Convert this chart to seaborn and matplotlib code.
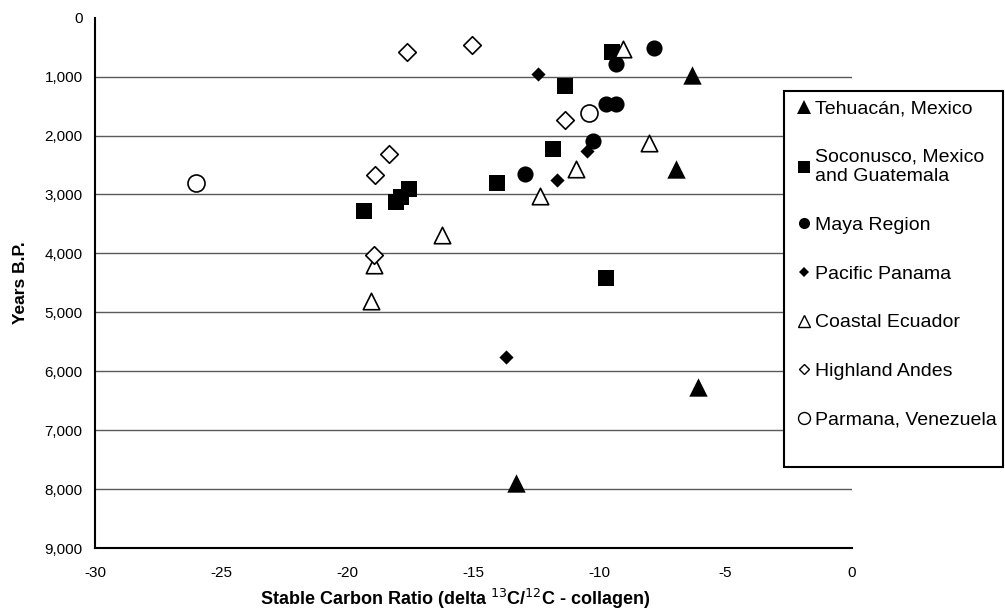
import matplotlib
matplotlib.use("Agg")
import matplotlib.pyplot as plt
import seaborn as sns
from matplotlib.lines import Line2D
from matplotlib.patches import Rectangle
from matplotlib.ticker import FuncFormatter

# delta 13C/12C (x) and years B.P. (y) per region
tehuacan_x = [-6.35, -6.95, -6.1, -13.3]
tehuacan_y = [970, 2570, 6260, 7900]

soconusco_x = [-19.35, -18.05, -17.85, -17.55, -14.05, -11.85, -11.35, -9.5, -9.75]
soconusco_y = [3280, 3120, 3040, 2900, 2810, 2225, 1160, 590, 4410]

maya_x = [-7.85, -9.35, -9.75, -9.35, -10.25, -12.95]
maya_y = [510, 790, 1460, 1460, 2100, 2650]

panama_x = [-12.45, -10.5, -11.7, -13.7]
panama_y = [955, 2255, 2760, 5755]

ecuador_x = [-9.05, -8.05, -10.95, -12.35, -16.25, -18.95, -19.05]
ecuador_y = [535, 2120, 2570, 3020, 3690, 4190, 4810]

andes_x = [-17.65, -15.05, -11.35, -18.35, -18.9, -18.95]
andes_y = [575, 465, 1735, 2315, 2665, 4020]

parmana_x = [-26.0, -10.4]
parmana_y = [2800, 1610]

labels = [
    "Tehuacán, Mexico",
    "Soconusco, Mexico\nand Guatemala",
    "Maya Region",
    "Pacific Panama",
    "Coastal Ecuador",
    "Highland Andes",
    "Parmana, Venezuela",
]

sns.set_style("white")
plt.rcParams["font.family"] = ["Liberation Sans", "DejaVu Sans"]
plt.rcParams["axes.unicode_minus"] = False
plt.rcParams["text.color"] = "black"
plt.rcParams["axes.labelcolor"] = "black"
plt.rcParams["xtick.color"] = "black"
plt.rcParams["ytick.color"] = "black"

W, H = 1005, 615
fig = plt.figure(figsize=(W / 100, H / 100), dpi=100)
ax = fig.add_axes([95 / W, 1 - 548 / H, (851.7 - 95) / W, (548 - 17.7) / H])

# (x, y, marker, size, filled)
series = [
    (tehuacan_x, tehuacan_y, "^", 175, True),
    (soconusco_x, soconusco_y, "s", 125, True),
    (maya_x, maya_y, "o", 135, True),
    (panama_x, panama_y, "D", 52, True),
    (ecuador_x, ecuador_y, "^", 140, False),
    (andes_x, andes_y, "D", 80, False),
    (parmana_x, parmana_y, "o", 150, False),
]

for yv in range(1000, 9000, 1000):
    ax.axhline(yv, color="#5a5a5a", lw=1, zorder=1)

for xs, ys, mk, sz, filled in series:
    if filled:
        sns.scatterplot(x=xs, y=ys, marker=mk, s=sz, color="black",
                        edgecolor="black", linewidth=0, ax=ax, zorder=3)
    else:
        sns.scatterplot(x=xs, y=ys, marker=mk, s=sz, facecolor="white",
                        edgecolor="black", linewidth=1.2, ax=ax, zorder=3)

ax.set_xlim(-30, 0)
ax.set_ylim(9000, 0)
ax.set_xticks(range(-30, 1, 5))
ax.set_yticks(range(0, 9001, 1000))
ax.yaxis.set_major_formatter(FuncFormatter(lambda v, p: f"{int(v):,}"))

for side in ["top", "right"]:
    ax.spines[side].set_visible(False)
for side in ["left", "bottom"]:
    ax.spines[side].set_color("black")
    ax.spines[side].set_linewidth(1.5)

ax.tick_params(axis="both", direction="out", length=5, width=1, labelsize=11)
ax.tick_params(axis="x", pad=8)
ax.tick_params(axis="y", pad=4)

ax.set_xlabel("Stable Carbon Ratio (delta $^{13}$C/$^{12}$C - collagen)",
              fontsize=13, fontweight="bold")
ax.set_ylabel("Years B.P.", fontsize=12.5, fontweight="bold")
ax.xaxis.set_label_coords((455 - 95) / 756.7, (548 - 587) / 530.3)
ax.yaxis.set_label_coords((13 - 95) / 756.7, 0.5)
ax.yaxis.label.set_verticalalignment("top")

# legend box drawn as a plain rectangle, like the original
fig.patches.append(Rectangle((784 / W, 1 - 467 / H), (1003 - 784) / W, (467 - 91) / H,
                             transform=fig.transFigure, facecolor="white",
                             edgecolor="black", linewidth=1.5, zorder=5))

leg_markers = [("^", 9.4, True), ("s", 8, True), ("o", 8, True), ("D", 4.6, True),
               ("^", 8.6, False), ("D", 5.6, False), ("o", 8.6, False)]
handles = [
    Line2D([], [], linestyle="none", marker=mk, markersize=ms,
           markerfacecolor="black" if f else "white", markeredgecolor="black",
           markeredgewidth=0 if f else 1.0)
    for mk, ms, f in leg_markers
]
leg = fig.legend(handles, labels, loc="upper left",
                 bbox_to_anchor=(796 / W, 1 - 100 / H), bbox_transform=fig.transFigure,
                 frameon=False, fontsize=14, borderpad=0, borderaxespad=0,
                 handlelength=0.8, handletextpad=0.2, labelspacing=1.6)
leg.set_zorder(6)
for t in leg.get_texts():
    t.set_linespacing(1.2)

fig.savefig("out.png", dpi=100)
